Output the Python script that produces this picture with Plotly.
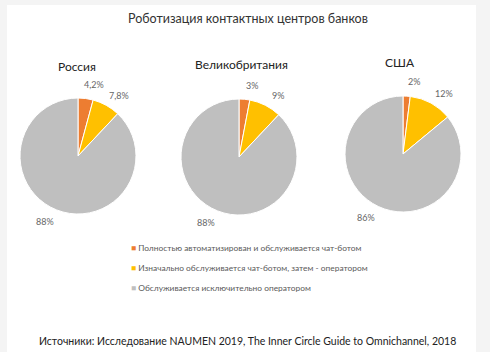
import math
import plotly.graph_objects as go

title = "Роботизация контактных центров банков"
source = "Источники: Исследование NAUMEN 2019, The Inner Circle Guide to Omnichannel, 2018"

countries = ["Россия", "Великобритания", "США"]
categories = [
    "Полностью автоматизирован и обслуживается чат-ботом",
    "Изначально обслуживается чат-ботом, затем - оператором",
    "Обслуживается исключительно оператором",
]
russia = [4.2, 7.8, 88]
uk = [3, 9, 88]
usa = [2, 12, 86]
series = [russia, uk, usa]
colors = ["#ED7D31", "#FFC000", "#BFBFBF"]

W, H = 490, 352
FONT = "Lato, 'Open Sans', sans-serif"

# pie centres / radius in px
centers = [(78, 156), (239, 157), (403, 154)]
R = 58

fig = go.Figure()


def fmt(v):
    return f"{v:g}".replace(".", ",") + "%"


annotations = []
for (cx, cy), vals, name in zip(centers, series, countries):
    fig.add_trace(go.Pie(
        labels=categories,
        values=vals,
        textinfo="none",
        sort=False,
        direction="clockwise",
        rotation=0,
        marker=dict(colors=colors, line=dict(color="white", width=1)),
        domain=dict(x=[(cx - R) / W, (cx + R) / W], y=[1 - (cy + R) / H, 1 - (cy - R) / H]),
        showlegend=False,
        hoverinfo="label+percent",
        name=name,
    ))
    # data labels placed just outside each slice's mid-angle (clockwise from 12 o'clock)
    total = sum(vals)
    cum = 0
    for v in vals:
        mid = (cum + v / 2) / total * 2 * math.pi + math.radians(5)
        cum += v
        d = R + 15
        lx = cx + d * math.sin(mid)
        ly = cy - d * math.cos(mid)
        annotations.append(dict(text=fmt(v), x=lx / W, y=1 - ly / H, xref="paper", yref="paper",
                                xanchor="center", yanchor="middle", showarrow=False,
                                font=dict(size=9, color="#666666", family=FONT)))

annotations += [
    dict(text=title, x=248 / W, y=1 - 19 / H, xref="paper", yref="paper",
         xanchor="center", yanchor="middle",
         showarrow=False, font=dict(size=12.5, color="#333333", family=FONT)),
    dict(text=source, x=248 / W, y=1 - 341 / H, xref="paper", yref="paper",
         xanchor="center", yanchor="middle",
         showarrow=False, font=dict(size=10.5, color="#222222", family=FONT)),
]
title_pos = [(77, 66), (241, 64), (400, 63)]
for (tx, ty), name in zip(title_pos, countries):
    annotations.append(dict(text=name, x=tx / W, y=1 - ty / H, xref="paper", yref="paper",
                            xanchor="center", yanchor="middle",
                            showarrow=False, font=dict(size=12, color="#222222", family=FONT)))

legend_y = [248, 268, 288]
for ly, cat, col in zip(legend_y, categories, colors):
    annotations.append(dict(
        text=f"<span style='color:{col}'>■</span> {cat}",
        x=129 / W, y=1 - ly / H, xref="paper", yref="paper", xanchor="left", yanchor="middle",
        showarrow=False, font=dict(size=8.4, color="#595959", family=FONT)))

fig.update_layout(
    width=W, height=H,
    margin=dict(l=0, r=0, t=0, b=0),
    paper_bgcolor="#F4F4F4",
    plot_bgcolor="white",
    shapes=[dict(type="rect", xref="paper", yref="paper", x0=7 / W, x1=476 / W,
                 y0=0, y1=1 - 5 / H, fillcolor="white", line=dict(width=0), layer="below")],
    annotations=annotations,
)

fig.write_html("out.html")
